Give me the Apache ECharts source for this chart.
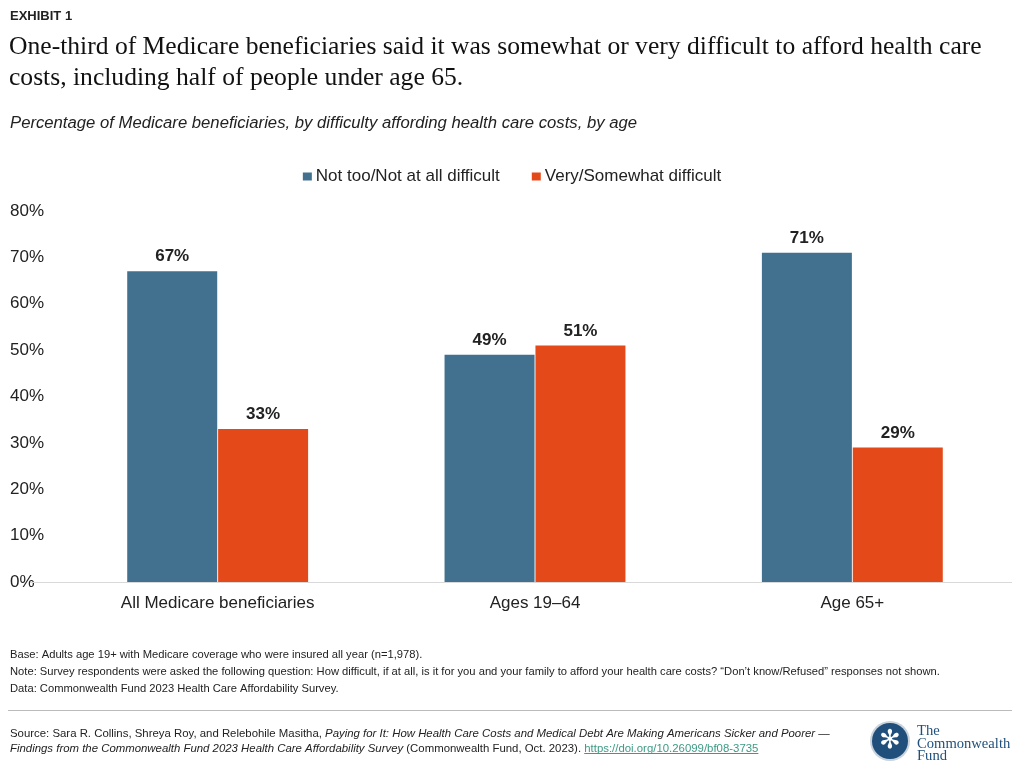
<!DOCTYPE html>
<html><head><meta charset="utf-8">
<script src="https://cdn.jsdelivr.net/npm/echarts@6/dist/echarts.min.js"></script>
<style>html,body{margin:0;padding:0;background:#fff}#c{width:1024px;height:768px}</style></head>
<body><div id="c"></div>
<script>
const categories = ['All Medicare beneficiaries', 'Ages 19–64', 'Age 65+'];
const notDifficult = [67, 49, 71];
const difficult = [33, 51, 29];
const seriesNames = ['Not too/Not at all difficult', 'Very/Somewhat difficult'];
const yMin = 0, yMax = 80, yStep = 10;

const BLUE = '#41718F', ORANGE = '#E44A19', TXT = '#222222';
const SANS = 'Liberation Sans, Arial, Helvetica, sans-serif';
const SERIF = 'Liberation Serif, Times New Roman, serif';

const cv = document.createElement('canvas').getContext('2d');
function tw(s, font) { cv.font = font; return cv.measureText(s).width; }

const chart = echarts.init(document.getElementById('c'), null, {renderer: 'canvas'});

const srcA = 'Source: Sara R. Collins, Shreya Roy, and Relebohile Masitha, ';
const srcB = 'Paying for It: How Health Care Costs and Medical Debt Are Making Americans Sicker and Poorer —';
const srcC = 'Findings from the Commonwealth Fund 2023 Health Care Affordability Survey';
const srcD = ' (Commonwealth Fund, Oct. 2023). ';
const srcLink = 'https://doi.org/10.26099/bf08-3735';
const fs = 11.2, sfs = 11.4;
const linkX = 10 + tw(srcC, 'italic ' + sfs + 'px Liberation Sans') + tw(srcD, sfs + 'px Liberation Sans');
const linkW = tw(srcLink, sfs + 'px Liberation Sans');

const labelStyle = {show: true, position: 'top', distance: 6, formatter: '{c}%', fontFamily: SANS, fontSize: 17, fontWeight: 'bold', color: TXT};

chart.setOption({
  backgroundColor: '#ffffff',
  animation: false,
  legend: {
    top: 163, left: 'center',
    icon: 'rect', itemWidth: 9, itemHeight: 8, itemGap: 32,
    textStyle: {fontFamily: SANS, fontSize: 17, color: TXT, padding: [0, 0, 0, -1]},
    data: seriesNames
  },
  grid: {left: 59, right: 13, top: 211, bottom: 186, containLabel: false},
  xAxis: {
    type: 'category', data: categories,
    axisLine: {show: false}, axisTick: {show: false},
    axisLabel: {margin: 13, fontFamily: SANS, fontSize: 17, color: TXT}
  },
  yAxis: {
    type: 'value', min: yMin, max: yMax, interval: yStep,
    axisLine: {show: false}, axisTick: {show: false}, splitLine: {show: false},
    axisLabel: {formatter: '{value}%', align: 'left', margin: 49, fontFamily: SANS, fontSize: 17, color: TXT, padding: [2, 0, 0, 0]}
  },
  series: [
    {name: seriesNames[0], type: 'bar', data: notDifficult, barWidth: 90, barGap: '1%', itemStyle: {color: BLUE}, label: labelStyle},
    {name: seriesNames[1], type: 'bar', data: difficult, barWidth: 90, barGap: '1%', itemStyle: {color: ORANGE}, label: labelStyle}
  ],
  graphic: [
    {type: 'line', shape: {x1: 30, y1: 582.5, x2: 1012, y2: 582.5}, style: {stroke: '#d9d9d9', lineWidth: 1}, z: 10},
    {type: 'text', left: 10, top: 10, style: {text: 'EXHIBIT 1', font: 'bold 13px ' + SANS, fill: TXT}},
    {type: 'text', left: 9, top: 32, style: {text: 'One-third of Medicare beneficiaries said it was somewhat or very difficult to afford health care\ncosts, including half of people under age 65.', font: '25.6px ' + SERIF, fill: '#111', lineHeight: 31}},
    {type: 'text', left: 10, top: 115, style: {text: 'Percentage of Medicare beneficiaries, by difficulty affording health care costs, by age', font: 'italic 16.7px ' + SANS, fill: TXT}},
    {type: 'text', left: 10, top: 646, style: {text: 'Base: Adults age 19+ with Medicare coverage who were insured all year (n=1,978).\nNote: Survey respondents were asked the following question: How difficult, if at all, is it for you and your family to afford your health care costs? “Don’t know/Refused” responses not shown.\nData: Commonwealth Fund 2023 Health Care Affordability Survey.', font: fs + 'px ' + SANS, fill: TXT, lineHeight: 17}},
    {type: 'line', shape: {x1: 8, y1: 710.5, x2: 1012, y2: 710.5}, style: {stroke: '#bbbbbb', lineWidth: 1}},
    {type: 'text', left: 10, top: 726, style: {
      text: srcA + '{i|' + srcB + '}\n{i|' + srcC + '}' + srcD + '{a|' + srcLink + '}',
      font: sfs + 'px ' + SANS, fill: TXT, lineHeight: 15,
      rich: {i: {fontStyle: 'italic', fontSize: sfs, fontFamily: SANS, fill: TXT}, a: {fontSize: sfs, fontFamily: SANS, fill: '#3d9a84'}}
    }},
    {type: 'line', shape: {x1: linkX, y1: 753.5, x2: linkX + linkW, y2: 753.5}, style: {stroke: '#3d9a84', lineWidth: 1}},
    {type: 'circle', shape: {cx: 890, cy: 741, r: 20}, style: {fill: '#c9d3dc'}},
    {type: 'circle', shape: {cx: 890, cy: 741, r: 18}, style: {fill: '#1f4f7a'}},
    {type: 'text', x: 890, y: 741, style: {text: '✻', font: '26px DejaVu Sans', fill: '#ffffff', align: 'center', verticalAlign: 'middle'}},
    {type: 'text', left: 917, top: 724, style: {text: 'The\nCommonwealth\nFund', font: '14.6px ' + SERIF, fill: '#1f4f7a', lineHeight: 12.5}}
  ]
});
</script></body></html>
